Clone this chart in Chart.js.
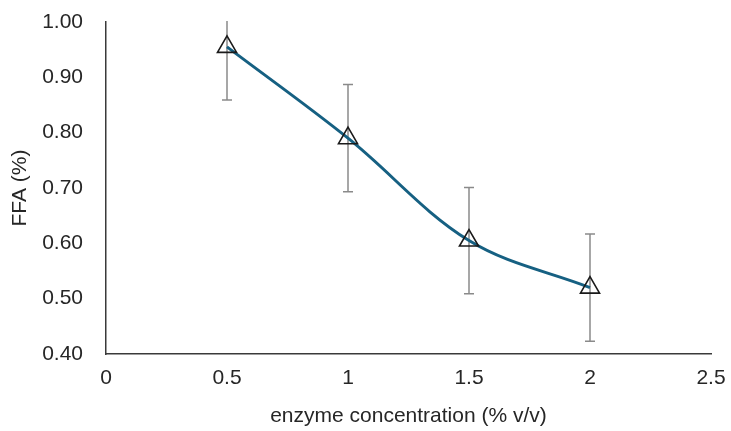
<!DOCTYPE html>
<html>
<head>
<meta charset="utf-8">
<script src="https://cdn.jsdelivr.net/npm/chart.js@4.4.1/dist/chart.umd.min.js"></script>
<style>
  html, body { margin: 0; padding: 0; background: #fff; }
  #wrap { width: 731px; height: 431px; }
</style>
</head>
<body>
<div id="wrap"><canvas id="ffaChart" width="731" height="431"></canvas></div>
<script>
const concentraciones = [0.5, 1, 1.5, 2];
const ffa = [0.955, 0.79, 0.605, 0.52];
const errores = [0.096, 0.097, 0.096, 0.097];
const xTicks = [0, 0.5, 1, 1.5, 2, 2.5];
const yTicks = [0.4, 0.5, 0.6, 0.7, 0.8, 0.9, 1.0];

const fuente = 'Liberation Sans, Arial, sans-serif';

// barras de error, dibujadas antes de la serie
const barrasError = {
    id: 'barrasError',
    beforeDatasetsDraw(chart) {
        const { ctx, chartArea, scales: { x, y } } = chart;
        ctx.save();
        ctx.beginPath();
        ctx.rect(chartArea.left, chartArea.top - 1, chartArea.right - chartArea.left, chartArea.bottom - chartArea.top + 1);
        ctx.clip();
        ctx.strokeStyle = '#8a8a8a';
        ctx.lineWidth = 1.5;
        concentraciones.forEach((c, i) => {
            const px = x.getPixelForValue(c);
            const yTop = y.getPixelForValue(ffa[i] + errores[i]);
            const yBot = y.getPixelForValue(ffa[i] - errores[i]);
            ctx.beginPath();
            ctx.moveTo(px, yTop);
            ctx.lineTo(px, yBot);
            ctx.moveTo(px - 5, yTop);
            ctx.lineTo(px + 5, yTop);
            ctx.moveTo(px - 5, yBot);
            ctx.lineTo(px + 5, yBot);
            ctx.stroke();
        });
        ctx.restore();
    }
};

new Chart(document.getElementById('ffaChart').getContext('2d'), {
    type: 'line',
    data: {
        datasets: [{
            label: 'FFA',
            data: concentraciones.map((c, i) => ({ x: c, y: ffa[i] })),
            borderColor: '#166082',
            borderWidth: 3,
            tension: 0.35,
            fill: false,
            pointStyle: 'triangle',
            pointRadius: 11,
            pointBorderColor: '#1a1a1a',
            pointBorderWidth: 1.6,
            pointBackgroundColor: 'rgba(0,0,0,0)'
        }]
    },
    options: {
        responsive: false,
        animation: false,
        layout: { padding: { left: 0, right: 20, top: 22, bottom: 0 } },
        plugins: { legend: { display: false }, tooltip: { enabled: false } },
        scales: {
            x: {
                type: 'linear',
                min: 0,
                max: 2.5,
                afterBuildTicks: s => { s.ticks = xTicks.map(v => ({ value: v })); },
                afterFit: s => { s.height = 77; s.paddingLeft = 0; s.paddingRight = 0; },
                grid: { display: false, drawTicks: false },
                border: { display: true, color: '#3a3a3a', width: 1.5 },
                ticks: {
                    padding: 12,
                    color: '#262626',
                    font: { family: fuente, size: 21 },
                    callback: v => String(v)
                },
                title: {
                    display: true,
                    text: 'enzyme concentration (% v/v)',
                    color: '#262626',
                    font: { family: fuente, size: 21 },
                    padding: { top: 0, bottom: 2 }
                }
            },
            y: {
                min: 0.4,
                max: 1.0,
                afterBuildTicks: s => { s.ticks = yTicks.map(v => ({ value: v })); },
                afterFit: s => { s.width = 106; s.paddingTop = 0; s.paddingBottom = 0; },
                grid: { display: false, drawTicks: false },
                border: { display: true, color: '#3a3a3a', width: 1.5 },
                ticks: {
                    padding: 23,
                    color: '#262626',
                    font: { family: fuente, size: 21 },
                    callback: v => v.toFixed(2)
                },
                title: {
                    display: true,
                    text: 'FFA (%)',
                    color: '#262626',
                    font: { family: fuente, size: 21 },
                    padding: { top: 8, bottom: 0 }
                }
            }
        }
    },
    plugins: [barrasError]
});
</script>
</body>
</html>
